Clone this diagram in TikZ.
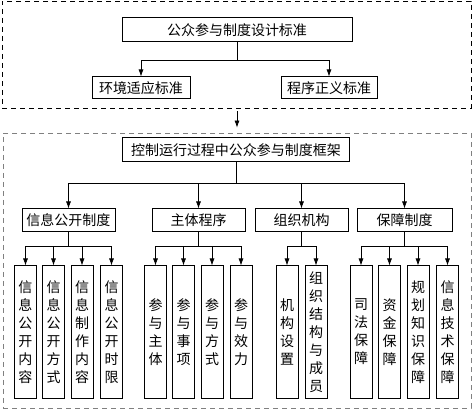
\documentclass[tikz,border=0pt]{standalone}
\usepackage{fontspec}
\setmainfont{Noto Sans CJK SC}
\usetikzlibrary{arrows.meta, positioning}

\tikzset{
  box/.style={draw, line width=1pt, inner sep=0pt, font=\fontsize{14}{18}\selectfont},
  leaf/.style={box, minimum width=22pt, minimum height=132pt, align=center},
  frame/.style={dashed, dash pattern=on 5pt off 4pt, line width=0.8pt},
  arr/.style={-{Latex[length=7pt,width=5pt]}, line width=0.7pt},
  link/.style={line width=0.7pt}
}

\begin{document}
\begin{tikzpicture}[x=1pt, y=-1pt]
  \useasboundingbox (0,0) rectangle (472,409);
  % outer dashed frames
  \node[frame, draw=black, minimum width=469pt, minimum height=107pt] (upper) at (236.5,54.5) {};
  \node[frame, draw=gray, minimum width=468pt, minimum height=275pt] (lower) at (237,270.5) {};

  \node[box, minimum width=230pt, minimum height=24pt] (std) at (237,30) {公众参与制度设计标准};
  \node[box, minimum width=98pt, minimum height=22pt] (env) at (141,88) {环境适应标准};
  \node[box, minimum width=96pt, minimum height=22pt] (proc) at (329,88) {程序正义标准};
  \draw[link] (std.south) -- ++(0,18) coordinate (jstd);
  \draw[arr] (jstd) -| (env.north);
  \draw[arr] (jstd) -| (proc.north);

  \draw[arr, shorten <=3pt, shorten >=5pt] (upper.south -| std.south) -- (lower.north -| std.south);

  \node[box, minimum width=227pt, minimum height=24pt] (ctrl) at (236,150) {控制运行过程中公众参与制度框架};
  \foreach \n/\x/\w/\t in {info/68.5/93/信息公开制度, subj/198.5/93/主体程序, org/301.5/93/组织机构, guar/404.5/95/保障制度} {
    \node[box, minimum width=\w pt, minimum height=23pt] (\n) at (\x,220.5) {\t};
  }
  \draw[link] (ctrl.south) -- ++(0,21) coordinate (jctrl);
  \foreach \n in {info, subj, org, guar} {
    \draw[arr] (jctrl) -| (\n.north);
  }

  \foreach \x/\t [count=\k] in {
      25.5/{信\\息\\公\\开\\内\\容}, 53.5/{信\\息\\公\\开\\方\\式},
      82/{信\\息\\制\\作\\内\\容}, 111.5/{信\\息\\公\\开\\时\\限},
      155.5/{参\\与\\主\\体}, 183.5/{参\\与\\事\\项},
      212/{参\\与\\方\\式}, 241/{参\\与\\效\\力},
      287/{机\\构\\设\\置}, 316/{组\\织\\结\\构\\与\\成\\员},
      361/{司\\法\\保\\障}, 389.5/{资\\金\\保\\障},
      418/{规\\划\\知\\识\\保\\障}, 447.5/{信\\息\\技\\术\\保\\障}} {
    \node[leaf] (leaf\k) at (\x,332) {\t};
  }

  \foreach \n/\first/\last in {info/1/4, subj/5/8, org/9/10, guar/11/14} {
    \draw[link] (\n.south) -- ++(0,14) coordinate (j\n);
    \foreach \k in {\first,...,\last} {
      \draw[arr] (j\n) -| (leaf\k.north);
    }
  }
\end{tikzpicture}
\end{document}
